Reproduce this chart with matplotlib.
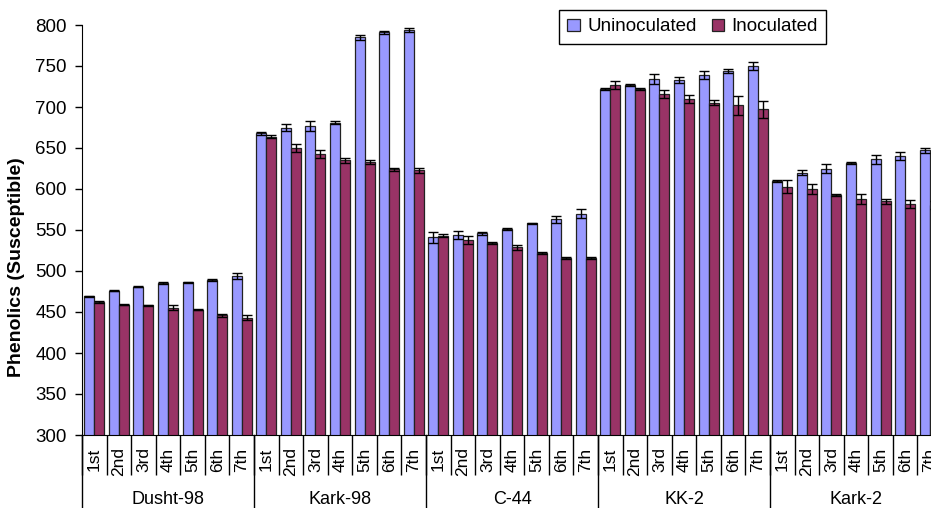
import numpy as np
import matplotlib.pyplot as plt
from matplotlib.lines import Line2D

plt.rcParams['font.family'] = ['Liberation Sans', 'DejaVu Sans']

varieties = ['Dusht-98', 'Kark-98', 'C-44', 'KK-2', 'Kark-2']
days = ['1st', '2nd', '3rd', '4th', '5th', '6th', '7th']

uninoculated = [
    469, 476, 481, 485, 486, 489, 494,
    668, 675, 677, 681, 785, 791, 794,
    541, 544, 546, 551, 558, 563, 570,
    722, 727, 734, 733, 739, 744, 750,
    610, 620, 625, 632, 636, 640, 647,
]
uninoculated_err = [
    1, 1, 1, 1, 1, 1, 4,
    2, 4, 6, 2, 3, 2, 2,
    7, 5, 2, 1, 1, 4, 5,
    1, 1, 6, 4, 5, 2, 5,
    1, 3, 6, 1, 5, 5, 3,
]
inoculated = [
    462, 459, 458, 455, 453, 446, 443,
    664, 650, 643, 635, 633, 624, 623,
    543, 538, 534, 529, 522, 516, 516,
    727, 722, 716, 710, 705, 702, 697,
    603, 600, 593, 588, 585, 582, 580,
]
inoculated_err = [
    1, 1, 1, 3, 1, 2, 3,
    2, 5, 5, 3, 2, 2, 3,
    2, 5, 1, 3, 1, 1, 1,
    5, 1, 5, 5, 3, 12, 10,
    8, 6, 1, 6, 3, 5, 5,
]

fig = plt.figure(figsize=(9.31, 5.08), dpi=100)
ax = fig.add_axes([82 / 931, 1 - 435 / 508, 860 / 931, 410 / 508])

n = len(uninoculated)
x = np.arange(n) + 0.5
w = 10 / 24.6

err_kw = dict(ecolor='black', elinewidth=1, capsize=3.3, capthick=1)
ax.bar(x - w / 2, uninoculated, w, yerr=uninoculated_err,
       color='#9999FF', edgecolor='#222222', linewidth=0.9,
       error_kw=err_kw, label='Uninoculated', zorder=2)
ax.bar(x + w / 2, inoculated, w, yerr=inoculated_err,
       color='#993366', edgecolor='#222222', linewidth=0.9,
       error_kw=err_kw, label='Inoculated', zorder=2)

ax.set_ylim(300, 800)
ax.set_xlim(0, n)
ax.set_yticks(np.arange(300, 801, 50))
ax.tick_params(axis='y', direction='out', length=5, width=1, labelsize=13.5, pad=6)

# category boundaries as long major ticks, day names on minor ticks
ax.set_xticks(np.arange(0, n + 1))
ax.set_xticklabels([])
ax.tick_params(axis='x', which='major', direction='out', length=29, width=1)
ax.set_xticks(x, minor=True)
ax.set_xticklabels(days * len(varieties), minor=True, rotation=90)
ax.tick_params(axis='x', which='minor', length=0, labelsize=12.5, pad=9)

for s in ['top', 'right']:
    ax.spines[s].set_visible(False)
ax.spines['left'].set_bounds(300, 800)

# group separators and variety names below the day labels
trans = ax.get_xaxis_transform()
for g in range(len(varieties) + 1):
    ax.add_line(Line2D([g * 7, g * 7], [0, -0.25], transform=trans,
                       color='black', lw=1, clip_on=False))
for g, name in enumerate(varieties):
    ax.text(g * 7 + 3.5, -0.157, name, transform=trans, ha='center',
            va='center', fontsize=13)

ax.set_ylabel('Phenolics (Susceptible)', fontsize=14, fontweight='bold')
ax.yaxis.set_label_coords(-0.066, 0.41)

leg = ax.legend(ncol=2, loc='upper right', bbox_to_anchor=(826 / 931, 1 - 10 / 508),
                bbox_transform=fig.transFigure, borderaxespad=0, fancybox=False,
                edgecolor='black', framealpha=1, fontsize=13.5,
                handlelength=0.65, handleheight=0.65, handletextpad=0.4,
                columnspacing=0.8, borderpad=0.45)
leg.get_frame().set_linewidth(1)

fig.savefig('out.png', dpi=100)
